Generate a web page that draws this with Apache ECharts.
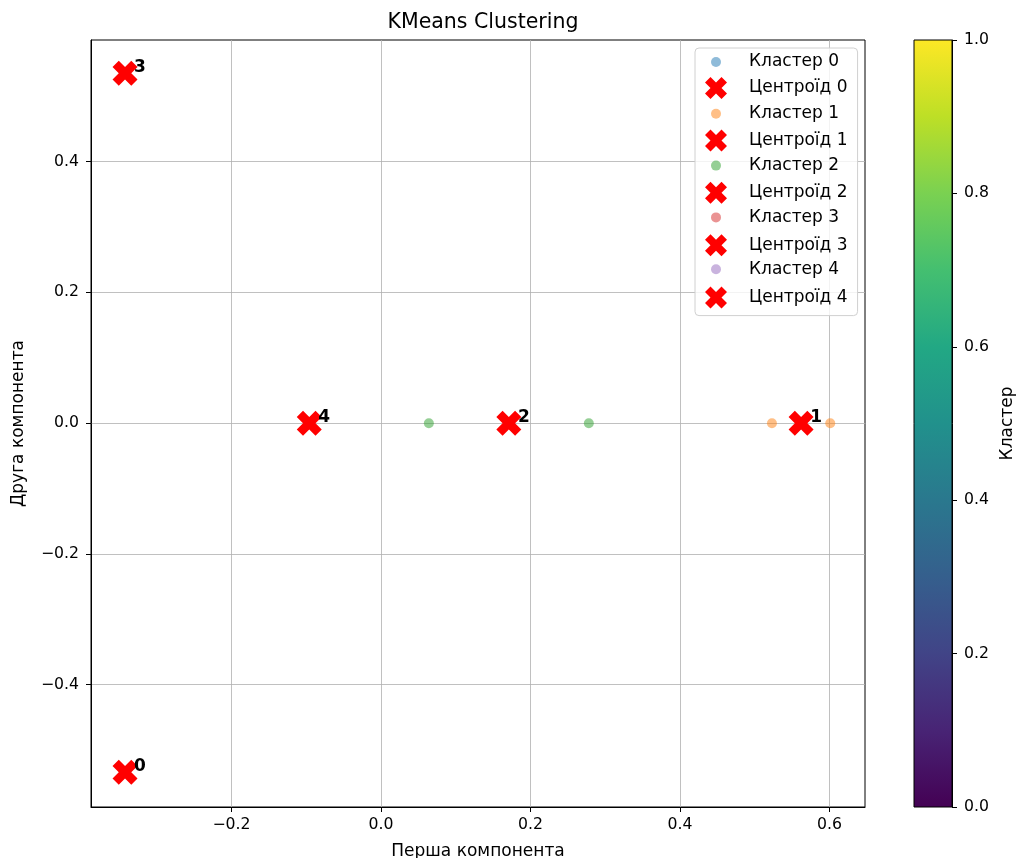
<!DOCTYPE html>
<html>
<head>
<meta charset="utf-8">
<script src="https://cdn.jsdelivr.net/npm/echarts@6/dist/echarts.min.js"></script>
<style>
html, body { margin: 0; padding: 0; background: #fff; }
#chart { width: 1019px; height: 858px; }
</style>
</head>
<body>
<div id="chart"></div>
<script>
// values
var clusterNames = ['Кластер 0', 'Кластер 1', 'Кластер 2', 'Кластер 3', 'Кластер 4'];
var centroidNames = ['Центроїд 0', 'Центроїд 1', 'Центроїд 2', 'Центроїд 3', 'Центроїд 4'];
var cluster0 = [[-0.3425, -0.534]];
var cluster1 = [[0.523, 0], [0.601, 0]];
var cluster2 = [[0.064, 0], [0.278, 0]];
var cluster3 = [[-0.3425, 0.535]];
var cluster4 = [[-0.096, 0]];
var centroids = [[-0.3425, -0.534], [0.562, 0], [0.171, 0], [-0.3425, 0.535], [-0.096, 0]];
var xTicks = [-0.2, 0.0, 0.2, 0.4, 0.6];
var yTicks = [-0.4, -0.2, 0.0, 0.2, 0.4];
var cbTicks = [0.0, 0.2, 0.4, 0.6, 0.8, 1.0];
var cbValue = [1];

var clusterColors = ['#1f77b4', '#ff7f0e', '#2ca02c', '#d62728', '#9467bd'];
var viridis = ['#440154', '#482475', '#414487', '#355f8d', '#2a788e', '#21918c',
               '#22a884', '#44bf70', '#7ad151', '#bddf26', '#fde725'];
var clusters = [cluster0, cluster1, cluster2, cluster3, cluster4];

var FONT = 'DejaVu Sans';
// thick filled X, like matplotlib's 'X' marker
var X_PATH = 'path://M0,2 L2,0 L4,2 L6,0 L8,2 L6,4 L8,6 L6,8 L4,6 L2,8 L0,6 L2,4 Z';

function fmt(v) {
    return (v < 0 ? '\u2212' : '') + Math.abs(v).toFixed(1);
}

var series = [];
for (var i = 0; i < 5; i++) {
    series.push({
        name: clusterNames[i],
        type: 'scatter',
        xAxisIndex: 0, yAxisIndex: 0,
        symbol: 'circle',
        symbolSize: 10,
        itemStyle: { color: clusterColors[i], opacity: 0.5 },
        data: clusters[i],
        z: 3
    });
    series.push({
        name: centroidNames[i],
        type: 'scatter',
        xAxisIndex: 0, yAxisIndex: 0,
        symbol: X_PATH,
        symbolSize: 25,
        itemStyle: { color: '#ff0000', opacity: 1 },
        label: {
            show: true,
            position: 'inside',
            offset: [15, -6],
            formatter: String(i),
            color: '#000',
            fontWeight: 'bold',
            fontSize: 17,
            fontFamily: FONT
        },
        data: [centroids[i]],
        z: 4
    });
}
// colour bar
series.push({
    type: 'bar',
    xAxisIndex: 1, yAxisIndex: 1,
    barWidth: '100%',
    silent: true,
    itemStyle: {
        color: new echarts.graphic.LinearGradient(0, 1, 0, 0, viridis.map(function (c, k) {
            return { offset: k / (viridis.length - 1), color: c };
        }))
    },
    data: cbValue
});

var tickText = { color: '#000', fontSize: 15.7, fontFamily: FONT };
var nameText = { color: '#000', fontSize: 17, fontFamily: FONT };

var option = {
    backgroundColor: '#fff',
    animation: false,
    title: {
        text: 'KMeans Clustering',
        left: 478,
        textAlign: 'center',
        top: 7,
        textStyle: { color: '#000', fontSize: 20.5, fontWeight: 'normal', fontFamily: FONT }
    },
    legend: [{
        orient: 'vertical',
        left: 695,
        top: 48,
        padding: [29, 10, 7, 10],
        data: centroidNames,
        itemWidth: 24,
        itemHeight: 22,
        itemGap: 30.4,
        backgroundColor: 'rgba(255,255,255,0.8)',
        borderColor: '#d0d0d0',
        borderWidth: 1,
        borderRadius: 4,
        textStyle: { color: '#000', fontSize: 17, fontFamily: FONT, padding: [0, 0, 0, 16] },
        selectedMode: false
    }, {
        orient: 'vertical',
        left: 711,
        top: 53.5,
        padding: 0,
        z: 5,
        data: clusterNames,
        itemWidth: 24,
        itemHeight: 10,
        itemGap: 34.8,
        textStyle: { color: '#000', fontSize: 17, fontFamily: FONT, padding: [0, 0, 0, 16] },
        selectedMode: false
    }],
    grid: [{
        left: 91, top: 40, right: 154, bottom: 51,
        containLabel: false, outerBoundsMode: 'none',
        show: true, borderColor: '#000', borderWidth: 1, backgroundColor: 'transparent'
    }, {
        left: 914, top: 40, width: 38, bottom: 51,
        containLabel: false, outerBoundsMode: 'none',
        show: true, borderColor: '#000', borderWidth: 1, backgroundColor: 'transparent', z: 3
    }],
    xAxis: [{
        gridIndex: 0,
        type: 'value',
        min: -0.388, max: 0.6475,
        name: 'Перша компонента',
        nameLocation: 'middle',
        nameGap: 36,
        nameTextStyle: nameText,
        axisLine: { onZero: false, lineStyle: { color: '#000' } },
        axisTick: { show: true, inside: false, length: 5, customValues: xTicks, lineStyle: { color: '#000' } },
        axisLabel: Object.assign({ customValues: xTicks, formatter: fmt, margin: 10 }, tickText),
        splitLine: { show: true, lineStyle: { color: '#b0b0b0', width: 0.8 } }
    }, {
        gridIndex: 1,
        type: 'category',
        data: ['cb'],
        show: false
    }],
    yAxis: [{
        gridIndex: 0,
        type: 'value',
        min: -0.587, max: 0.586,
        name: 'Друга компонента',
        nameLocation: 'middle',
        nameGap: 64,
        nameTextStyle: nameText,
        axisLine: { show: true, onZero: false, lineStyle: { color: '#000' } },
        axisTick: { show: true, inside: false, length: 5, customValues: yTicks, lineStyle: { color: '#000' } },
        axisLabel: Object.assign({ customValues: yTicks, formatter: fmt, margin: 12 }, tickText),
        splitLine: { show: true, lineStyle: { color: '#b0b0b0', width: 0.8 } }
    }, {
        gridIndex: 1,
        type: 'value',
        position: 'right',
        min: 0, max: 1, interval: 0.2,
        name: 'Кластер',
        nameLocation: 'middle',
        nameRotate: 90,
        nameGap: 47,
        nameTextStyle: nameText,
        axisLine: { show: true, onZero: false, lineStyle: { color: '#000' } },
        axisTick: { show: true, inside: false, length: 5, lineStyle: { color: '#000' } },
        axisLabel: Object.assign({ formatter: fmt, margin: 12 }, tickText),
        splitLine: { show: false }
    }],
    series: series
};

var myChart = echarts.init(document.getElementById('chart'), null, { renderer: 'canvas' });
myChart.setOption(option);
</script>
</body>
</html>
